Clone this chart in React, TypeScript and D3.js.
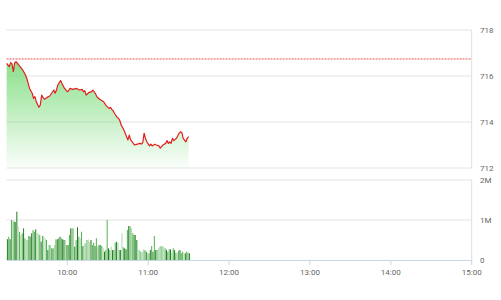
import React from "react";
import * as d3 from "d3";

const priceTimes = [
  "09:15","09:17","09:18","09:19","09:20","09:21","09:22","09:24","09:25","09:27",
  "09:29","09:30","09:31","09:32","09:34","09:35","09:36","09:37","09:39","09:40",
  "09:41","09:42","09:43","09:45","09:47","09:50","09:51","09:52","09:53","09:55",
  "09:56","09:58","10:00","10:01","10:02","10:04","10:07","10:09","10:11","10:12",
  "10:13","10:14","10:16","10:18","10:19","10:21","10:22","10:24","10:27","10:29",
  "10:31","10:32","10:33","10:34","10:35","10:37","10:38","10:39","10:40","10:42",
  "10:43","10:44","10:45","10:46","10:47","10:49","10:50","10:52","10:54","10:55",
  "10:56","10:57","10:58","10:59","11:01","11:02","11:03","11:05","11:06","11:08",
  "11:09","11:10","11:11","11:13","11:14","11:15","11:16","11:17","11:18","11:19",
  "11:21","11:23","11:24","11:25","11:26","11:28","11:29","11:30",
];
const prices = [
  716.55, 716.41, 716.58, 716.52, 716.19, 716.58, 716.62, 716.48, 716.41, 716.26,
  716.04, 715.90, 715.68, 715.46, 715.25, 715.03, 715.10, 714.88, 714.64, 714.74,
  715.17, 715.07, 714.99, 715.07, 715.13, 715.39, 715.25, 715.39, 715.61, 715.80,
  715.68, 715.46, 715.32, 715.36, 715.46, 715.42, 715.46, 715.39, 715.42, 715.32,
  715.36, 715.17, 715.28, 715.32, 715.39, 715.22, 715.10, 714.99, 714.88, 714.70,
  714.59, 714.64, 714.55, 714.49, 714.38, 714.20, 714.16, 714.06, 713.87, 713.65,
  713.51, 713.36, 713.22, 713.43, 713.22, 713.07, 713.00, 713.04, 713.07, 713.04,
  713.10, 713.51, 713.29, 713.14, 712.96, 713.04, 712.96, 713.03, 713.00, 712.96,
  712.86, 712.93, 713.00, 713.07, 713.19, 713.07, 713.14, 713.07, 713.29, 713.19,
  713.29, 713.51, 713.57, 713.54, 713.29, 713.14, 713.29, 713.36,
];
const referencePrice = 716.74;

// volume per minute from 09:15 (thousand shares)
const volumeStart = "09:15";
const volumes = [
  520, 580, 520, 1000, 990, 960, 950, 1210, 830, 700,
  625, 667, 792, 542, 500, 500, 600, 583, 667, 750,
  708, 767, 667, 667, 625, 458, 600, 600, 542, 500,
  250, 375, 375, 292, 292, 375, 517, 517, 542, 583,
  542, 517, 500, 500, 375, 375, 625, 792, 792, 792,
  333, 500, 817, 583, 542, 708, 350, 417, 417, 500,
  517, 458, 500, 375, 433, 350, 542, 333, 375, 375,
  350, 292, 208, 250, 1000, 292, 250, 333, 250, 250,
  433, 458, 433, 250, 250, 667, 317, 292, 267, 750,
  850, 850, 792, 667, 625, 625, 500, 250, 250, 208,
  208, 267, 250, 208, 167, 167, 250, 350, 208, 600,
  250, 250, 292, 333, 350, 333, 333, 292, 250, 208,
  267, 267, 183, 292, 250, 183, 183, 233, 250, 167,
  208, 167, 167, 208, 183, 167,
];
const volumeShades = (
  "dmdmldmdlm" + "lmdmlldmdm" + "mdllmdmllm" + "dmldmlmdmd" + "mddlmdmdml" +
  "dmdmlmdllm" + "lldmmdmldm" + "mldmmdmldm" + "mdlmdlmddm" + "dmlmdmdllm" +
  "llmdlmdmdm" + "dmllmllmdm" + "mdlmdmlmdm" + "mldmmd"
).split("");

const priceTicks = [712, 714, 716, 718];
const volumeTicks = [0, 1000, 2000];
const volumeTickLabels = ["0", "1M", "2M"];
const timeTicks = ["10:00", "11:00", "12:00", "13:00", "14:00", "15:00"];
const sessionStart = "09:15";
const sessionEnd = "15:00";

const toMin = (s: string) => {
  const [h, m] = s.split(":").map(Number);
  return h * 60 + m;
};

export default function App() {
  const W = 501, H = 300;
  const x = d3.scaleLinear().domain([toMin(sessionStart), toMin(sessionEnd)]).range([6.6, 471.7]);
  const yP = d3.scaleLinear().domain([712, 718]).range([168, 30]);
  const yV = d3.scaleLinear().domain([0, 2000]).range([260, 180]);

  const pts = priceTimes.map((t, i) => ({ t: toMin(t), v: prices[i] }));
  const line = d3.line<any>().x((d) => x(d.t)).y((d) => yP(d.v));
  const area = d3.area<any>().x((d) => x(d.t)).y0(168).y1((d) => yP(d.v));

  const shadeColor: Record<string, string> = { d: "#237a23", m: "#52b152", l: "#a9d8a9" };
  const v0 = toMin(volumeStart);
  const font = "Roboto, sans-serif";

  return (
    <svg width={W} height={H} style={{ position: "absolute", left: 0, top: 0, background: "#fff" }}>
      <defs>
        <linearGradient id="gfill" gradientUnits="userSpaceOnUse" x1="0" y1="60" x2="0" y2="168">
          <stop offset="0" stopColor="#7ddc7d" stopOpacity="0.9" />
          <stop offset="1" stopColor="#7ddc7d" stopOpacity="0.04" />
        </linearGradient>
      </defs>
      {/* price grid */}
      {priceTicks.map((t) => (
        <line key={"pg" + t} x1={6.6} x2={471.7} y1={yP(t)} y2={yP(t)} stroke="#e3e3e3" strokeWidth={1} />
      ))}
      <line x1={471.7} x2={471.7} y1={30} y2={168} stroke="#d6e0ea" strokeWidth={1} />
      <path d={area(pts) || ""} fill="url(#gfill)" />
      <line x1={6.6} x2={471.7} y1={yP(referencePrice)} y2={yP(referencePrice)} stroke="#f05050" strokeWidth={1} strokeDasharray="2,1" />
      <path d={line(pts) || ""} fill="none" stroke="#e31e1e" strokeWidth={1.2} strokeLinejoin="round" />
      {priceTicks.map((t) => (
        <text key={"pl" + t} x={480} y={yP(t)} dy="0.35em" fontSize={8} fill="#666" fontFamily={font}>{t}</text>
      ))}

      {/* volume grid */}
      {volumeTicks.slice(1).map((t) => (
        <line key={"vg" + t} x1={6.6} x2={471.7} y1={yV(t)} y2={yV(t)} stroke="#e3e3e3" strokeWidth={1} />
      ))}
      <line x1={471.7} x2={471.7} y1={180} y2={260} stroke="#d6e0ea" strokeWidth={1} />
      {volumes.map((v, i) => (
        <rect key={"vb" + i} x={x(v0 + i) + 0.3} width={1} y={yV(v)} height={yV(0) - yV(v)} fill={shadeColor[volumeShades[i]] || "#52b152"} />
      ))}
      <line x1={6.6} x2={471.7} y1={260.5} y2={260.5} stroke="#c9d6e3" strokeWidth={1} />
      {volumeTicks.map((t, i) => (
        <text key={"vl" + t} x={480} y={yV(t)} dy="0.35em" fontSize={8} fill="#666" fontFamily={font}>{volumeTickLabels[i]}</text>
      ))}
      {timeTicks.map((t) => (
        <g key={"xt" + t}>
          <line x1={x(toMin(t))} x2={x(toMin(t))} y1={260} y2={265} stroke="#c9d6e3" strokeWidth={1} />
          <text x={x(toMin(t))} y={272} dy="0.35em" textAnchor="middle" fontSize={8} fill="#666" fontFamily={font}>{t}</text>
        </g>
      ))}
    </svg>
  );
}
